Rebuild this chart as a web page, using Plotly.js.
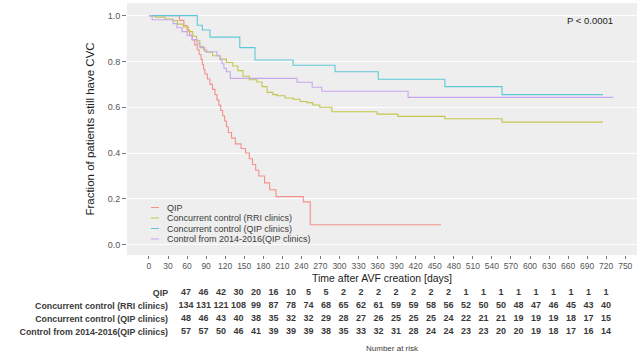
<!DOCTYPE html>
<html><head><meta charset="utf-8">
<script src="https://cdn.plot.ly/plotly-3.0.1.min.js"></script>
<style>html,body{margin:0;padding:0;background:#fff}#chart{width:640px;height:353px}</style>
</head><body><div id="chart"></div>
<script>
// ---- data ----
const seriesNames = ["QIP", "Concurrent control (RRI clinics)", "Concurrent control (QIP clinics)", "Control from 2014-2016(QIP clinics)"];

const qipTime = [0, 48, 55, 60, 64, 68, 72, 76, 79, 82, 84, 86, 88, 92, 96, 100, 104, 107, 110, 113, 116, 119, 122, 125, 130, 136, 145, 152, 158, 163, 168, 173, 182, 190, 200, 243, 254, 460];
const qipSurv = [1, 0.979, 0.957, 0.936, 0.915, 0.894, 0.872, 0.851, 0.83, 0.809, 0.787, 0.766, 0.745, 0.723, 0.70, 0.678, 0.655, 0.632, 0.609, 0.586, 0.563, 0.54, 0.515, 0.49, 0.465, 0.44, 0.42, 0.40, 0.375, 0.35, 0.325, 0.30, 0.27, 0.24, 0.21, 0.187, 0.087, 0.087];

const rriTime = [0, 10, 25, 38, 45, 54, 62, 69, 75, 80, 86, 91, 100, 112, 122, 132, 140, 148, 158, 170, 178, 186, 195, 202, 214, 227, 238, 249, 258, 269, 288, 359, 392, 466, 556, 715];
const rriSurv = [1, 0.993, 0.985, 0.978, 0.963, 0.95, 0.93, 0.91, 0.89, 0.865, 0.85, 0.84, 0.825, 0.81, 0.795, 0.78, 0.76, 0.735, 0.72, 0.71, 0.69, 0.665, 0.655, 0.65, 0.64, 0.635, 0.625, 0.62, 0.61, 0.60, 0.58, 0.57, 0.56, 0.55, 0.535, 0.535];

const cqTime = [0, 76, 84, 96, 143, 167, 227, 293, 361, 466, 556, 715];
const cqSurv = [1, 0.958, 0.937, 0.906, 0.86, 0.806, 0.783, 0.755, 0.722, 0.69, 0.655, 0.655];

const ctlTime = [0, 5, 38, 44, 52, 60, 68, 76, 80, 88, 107, 112, 115, 118, 122, 128, 233, 257, 272, 408, 731];
const ctlSurv = [1, 0.982, 0.965, 0.947, 0.93, 0.912, 0.895, 0.877, 0.86, 0.842, 0.825, 0.807, 0.79, 0.77, 0.755, 0.726, 0.709, 0.687, 0.67, 0.643, 0.643];

const riskTimes = [0, 30, 60, 90, 120, 150, 180, 210, 240, 270, 300, 330, 360, 390, 420, 450, 480, 510, 540, 570, 600, 630, 660, 690, 720];
const qipRisk = [47, 46, 42, 30, 20, 16, 10, 5, 5, 2, 2, 2, 2, 2, 2, 2, 1, 1, 1, 1, 1, 1, 1, 1, 1];
const rriRisk = [134, 131, 121, 108, 99, 87, 78, 74, 68, 65, 62, 61, 59, 59, 58, 56, 52, 50, 50, 48, 47, 46, 45, 43, 40];
const cqRisk = [48, 46, 43, 40, 38, 35, 32, 32, 29, 28, 27, 26, 25, 25, 25, 24, 22, 21, 21, 19, 19, 19, 18, 17, 15];
const ctlRisk = [57, 57, 50, 46, 41, 39, 39, 39, 38, 35, 33, 32, 31, 28, 24, 24, 23, 23, 20, 20, 19, 18, 17, 16, 14];

const xTickVals = [0, 30, 60, 90, 120, 150, 180, 210, 240, 270, 300, 330, 360, 390, 420, 450, 480, 510, 540, 570, 600, 630, 660, 690, 720, 750];
const yTickVals = [0, 0.2, 0.4, 0.6, 0.8, 1.0];
const yTickText = ["0.0", "0.2", "0.4", "0.6", "0.8", "1.0"];
const pText = "P < 0.0001";

// ---- styling ----
const colors = ["#F3918A", "#C4C64C", "#5EC9D6", "#C8A6EE"];
const FONT = "Liberation Sans, Arial, sans-serif";
const W = 640, H = 353, L = 127, R = 3, T = 3, B = 0;
const PW = W - L - R, PH = H - T - B;
const px2x = px => (px - L) / PW;
const px2y = py => (H - B - py) / PH;

const curves = [[qipTime, qipSurv], [rriTime, rriSurv], [cqTime, cqSurv], [ctlTime, ctlSurv]];
const risks = [qipRisk, rriRisk, cqRisk, ctlRisk];

const traces = [];
curves.forEach((c, i) => {
  traces.push({
    type: "scatter", mode: "lines", x: c[0], y: c[1], name: seriesNames[i],
    line: {shape: "hv", color: colors[i], width: 1.1},
    xaxis: "x", yaxis: "y", showlegend: false, hoverinfo: "skip"
  });
});
risks.forEach((r, i) => {
  traces.push({
    type: "scatter", mode: "text", x: riskTimes, y: riskTimes.map(() => 3 - i),
    text: r.map(String), textposition: "middle center",
    textfont: {family: FONT, size: 9, color: "#3a3a3a", weight: "bold"},
    xaxis: "x2", yaxis: "y2", showlegend: false, hoverinfo: "skip"
  });
});

const legendY = [207.5, 218, 228.5, 239];
const shapes = legendY.map((py, i) => ({
  type: "line", xref: "paper", yref: "paper",
  x0: px2x(151), x1: px2x(159), y0: px2y(py), y1: px2y(py),
  line: {color: colors[i], width: 1}
}));
const annotations = legendY.map((py, i) => ({
  xref: "paper", yref: "paper", x: px2x(165), y: px2y(py),
  xanchor: "left", yanchor: "middle", showarrow: false,
  text: seriesNames[i], font: {family: FONT, size: 9, color: "#3a3a3a"}
}));
annotations.push({
  xref: "paper", yref: "paper", x: px2x(590), y: px2y(21),
  xanchor: "center", yanchor: "middle", showarrow: false,
  text: pText, font: {family: FONT, size: 9.5, color: "#222"}
});
annotations.push({
  xref: "paper", yref: "paper", x: px2x(392), y: px2y(348),
  xanchor: "center", yanchor: "middle", showarrow: false,
  text: "Number at risk", font: {family: FONT, size: 8, color: "#3a3a3a"}
});

// table x mapping: t=0 at px 186, 17.5 px per 30 days
const tScale = 17.5 / 30;
const x2r0 = -(186 - L) / tScale, x2r1 = x2r0 + PW / tScale;

const layout = {
  width: W, height: H,
  margin: {l: L, r: R, t: T, b: B, pad: 0},
  paper_bgcolor: "#ffffff", plot_bgcolor: "#ffffff",
  font: {family: FONT},
  xaxis: {
    domain: [0, 1], anchor: "y", range: [-34.6, 768.5],
    tickvals: xTickVals, ticks: "outside", ticklen: 3, tickcolor: "#777", tickwidth: 1,
    tickfont: {family: FONT, size: 8.5, color: "#555"},
    showgrid: false, zeroline: false, showline: false,
    title: {text: "Time after AVF creation [days]", font: {family: FONT, size: 10.5, color: "#222"}, standoff: 4}
  },
  yaxis: {
    domain: [px2y(255), px2y(3)], anchor: "x", range: [-0.045, 1.055],
    tickvals: yTickVals, ticktext: yTickText, ticks: "outside", ticklen: 4, tickcolor: "#777",
    tickfont: {family: FONT, size: 9, color: "#555"},
    showgrid: true, gridcolor: "#ffffff", gridwidth: 1, zeroline: false, showline: false,
    title: {text: "Fraction of patients still have CVC", font: {family: FONT, size: 11.5, color: "#222"}}
  },
  xaxis2: {
    domain: [0, 1], anchor: "y2", range: [x2r0, x2r1],
    showticklabels: false, ticks: "", showgrid: false, zeroline: false, showline: false
  },
  yaxis2: {
    domain: [px2y(338.5), px2y(286.5)], anchor: "free", position: px2x(168), range: [-0.5, 3.5],
    tickvals: [3, 2, 1, 0], ticktext: seriesNames, ticks: "",
    tickfont: {family: FONT, size: 8.8, color: "#3a3a3a", weight: "bold"},
    showgrid: false, zeroline: false, showline: false
  },
  shapes: [{type: "rect", xref: "x domain", yref: "y domain", x0: 0, x1: 1, y0: 0, y1: 1,
            fillcolor: "#eeeeee", line: {width: 0}, layer: "below"}].concat(shapes),
  annotations: annotations
};

Plotly.newPlot("chart", traces, layout, {displayModeBar: false, staticPlot: true});
</script></body></html>
